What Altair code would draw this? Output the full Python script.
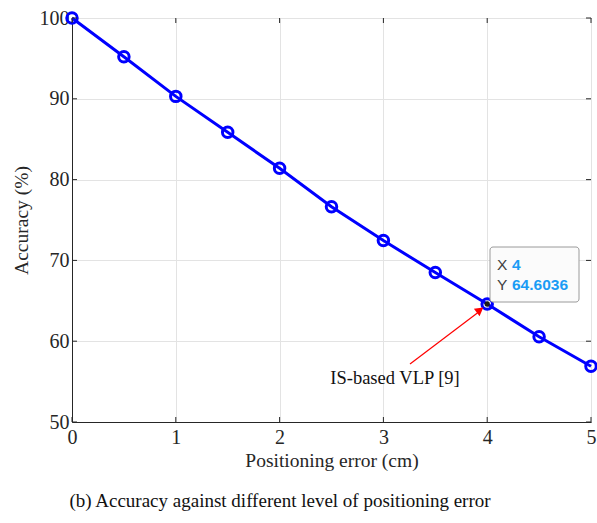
import altair as alt
import pandas as pd

# Data
err_cm = [0, 0.5, 1, 1.5, 2, 2.5, 3, 3.5, 4, 4.5, 5]
accuracy = [100, 95.2, 90.3, 85.85, 81.4, 76.65, 72.45, 68.5, 64.6036, 60.55, 56.9]
x_ticks = [0, 1, 2, 3, 4, 5]
y_ticks = [50, 60, 70, 80, 90, 100]

tip_x = [4]
tip_y = [64.6036]
annot_text = ["IS-based VLP [9]"]

W, H = 519, 404
FONT = "Liberation Serif"
AX = "#262626"

df = pd.DataFrame({"x": err_cm, "y": accuracy})
xs = alt.Scale(domain=[0, 5], nice=False, zero=False)
ys = alt.Scale(domain=[50, 100], nice=False, zero=False)

base = alt.Chart(df)

line = base.mark_line(color="#0000ff", strokeWidth=3).encode(
    x=alt.X("x:Q", scale=xs, axis=alt.Axis(values=x_ticks, title="Positioning error (cm)",
                                           format="d", tickSize=0, labelPadding=5, titlePadding=4,
                                           labelFlush=False)),
    y=alt.Y("y:Q", scale=ys, axis=alt.Axis(values=y_ticks, title="Accuracy (%)",
                                           format="d", tickSize=0, labelPadding=3, titlePadding=8,
                                           labelFlush=False)),
)
pts = base.mark_point(shape="circle", color="#0000ff", size=110, strokeWidth=3, filled=False, opacity=1).encode(
    x=alt.X("x:Q", scale=xs), y=alt.Y("y:Q", scale=ys)
)

# inward ticks on all four sides
xt = pd.DataFrame({"v": x_ticks})
yt = pd.DataFrame({"v": y_ticks})
xtick_b = alt.Chart(xt).mark_rule(color=AX, strokeWidth=1).encode(
    x=alt.X("v:Q", scale=xs), y=alt.value(H), y2=alt.value(H - 5))
xtick_t = alt.Chart(xt).mark_rule(color=AX, strokeWidth=1).encode(
    x=alt.X("v:Q", scale=xs), y=alt.value(0), y2=alt.value(5))
ytick_l = alt.Chart(yt).mark_rule(color=AX, strokeWidth=1).encode(
    y=alt.Y("v:Q", scale=ys), x=alt.value(0), x2=alt.value(5))
ytick_r = alt.Chart(yt).mark_rule(color=AX, strokeWidth=1).encode(
    y=alt.Y("v:Q", scale=ys), x=alt.value(W), x2=alt.value(W - 5))

# datatip
tip_df = pd.DataFrame({"x": tip_x, "y": tip_y})
tip_dot = alt.Chart(tip_df).mark_point(shape="circle", filled=True, color="#1a1a1a", size=28, opacity=1).encode(
    x=alt.X("x:Q", scale=xs), y=alt.Y("y:Q", scale=ys))
tip_box = alt.Chart(tip_df).mark_rect(fill="#fbfbfb", stroke="#9a9a9a", strokeWidth=1, cornerRadius=3).encode(
    x=alt.value(418), x2=alt.value(507), y=alt.value(229), y2=alt.value(284))
tip_lx = alt.Chart(tip_df).mark_text(align="left", baseline="middle", font="Liberation Sans",
                                     fontSize=15.5, color="#404040").encode(
    x=alt.value(425), y=alt.value(247), text=alt.value("X"))
tip_ly = alt.Chart(tip_df).mark_text(align="left", baseline="middle", font="Liberation Sans",
                                     fontSize=15.5, color="#404040").encode(
    x=alt.value(425), y=alt.value(267), text=alt.value("Y"))
tip_vx = alt.Chart(tip_df).mark_text(align="left", baseline="middle", font="Liberation Sans",
                                     fontSize=15.5, fontWeight="bold", color="#1a9cf5").encode(
    x=alt.value(440), y=alt.value(247), text=alt.Text("x:Q", format="d"))
tip_vy = alt.Chart(tip_df).mark_text(align="left", baseline="middle", font="Liberation Sans",
                                     fontSize=15.5, fontWeight="bold", color="#1a9cf5").encode(
    x=alt.value(440), y=alt.value(267), text=alt.Text("y:Q", format=".4f"))

# annotation arrow
arr = alt.Chart(tip_df).mark_rule(color="#ff0000", strokeWidth=1.2).encode(
    x=alt.value(338), y=alt.value(346), x2=alt.value(408), y2=alt.value(293))
head = alt.Chart(tip_df).mark_point(shape="triangle-up", filled=True, color="#ff0000", size=90,
                                    angle=53, opacity=1).encode(
    x=alt.value(408), y=alt.value(292))
annot = alt.Chart(pd.DataFrame({"t": annot_text})).mark_text(
    align="center", baseline="middle", font=FONT, fontSize=18.5, color="#111111").encode(
    x=alt.value(323), y=alt.value(360), text="t:N")

caption = alt.Chart(pd.DataFrame({"t": ["(b) Accuracy against different level of positioning error"]})).mark_text(
    align="center", baseline="middle", font=FONT, fontSize=19, color="#111111").encode(
    x=alt.value(208), y=alt.value(483), text="t:N")

chart = alt.layer(
    line, pts, xtick_b, xtick_t, ytick_l, ytick_r, tip_dot, arr, head, tip_box,
    tip_lx, tip_ly, tip_vx, tip_vy, annot, caption
).properties(
    width=W, height=H,
    autosize=alt.AutoSizeParams(type="none"),
    padding={"left": 72, "top": 18, "right": 6, "bottom": 101},
).configure_view(
    stroke=AX, strokeWidth=1
).configure_axis(
    labelFont=FONT, titleFont=FONT, labelFontSize=20, titleFontSize=19.5,
    labelColor="#262626", titleColor="#262626", titleFontWeight="normal",
    domainColor=AX, gridColor="#e3e3e3", grid=True,
)

chart.save("out.html", embed_options={"renderer": "svg", "actions": False})
